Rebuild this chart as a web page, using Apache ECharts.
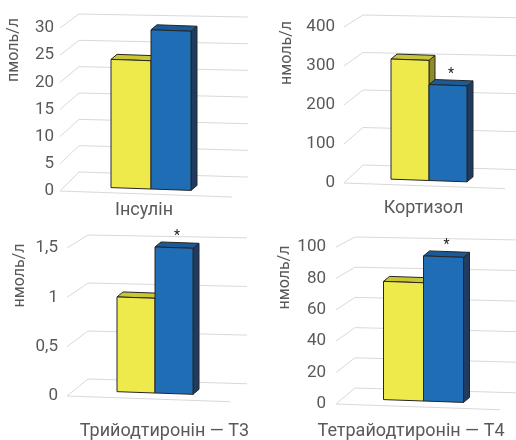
<!DOCTYPE html>
<html>
<head>
<meta charset="utf-8">
<script src="https://cdn.jsdelivr.net/npm/echarts@6/dist/echarts.min.js"></script>
<style>
  html, body { margin: 0; padding: 0; background: #fff; }
  #chart { width: 516px; height: 440px; }
</style>
</head>
<body>
<div id="chart"></div>
<script>
// data
const categories = ['Інсулін', 'Кортизол', 'Трийодтиронін — Т3', 'Тетрайодтиронін — Т4'];
const units = ['пмоль/л', 'нмоль/л', 'нмоль/л', 'нмоль/л'];
const yellowValues = [23.6, 308, 0.96, 75.3];
const blueValues = [29.3, 246, 1.48, 92.4];
const marks = ['', '*', '*', '*'];
const axisMax = [30, 400, 1.5, 100];
const axisStep = [5, 100, 0.5, 20];
const ticks = [
    [0, 5, 10, 15, 20, 25, 30],
    [0, 100, 200, 300, 400],
    [0, 0.5, 1, 1.5],
    [0, 20, 40, 60, 80, 100]
];

// layout of the four panels (pixels)
const panels = [
    {left: 60, top: 28, bottom: 191, right: 232, labelMargin: 10, labelShift: -2, yMargin: 6,
        nameGap: 38, nameCenter: 50, backEnd: 248, dx: 19, dy0: 19, dyTop: 14, barW: 40, shiftX: 5, shiftY: -2},
    {left: 344, top: 27, bottom: 183, right: 505, labelMargin: 16, labelShift: -1, yMargin: 9,
        nameGap: 49, nameCenter: 53, backEnd: 530, dx: 19, dy0: 18, dyTop: 12, barW: 38, shiftX: 4.5, shiftY: -2.5},
    {left: 67, top: 248, bottom: 397, right: 230, labelMargin: 26, labelShift: 16, yMargin: 9,
        nameGap: 39, nameCenter: 276, backEnd: 247, dx: 21, dy0: 17, dyTop: 13, barW: 38, shiftX: 6.5, shiftY: -3},
    {left: 336, top: 247, bottom: 405, right: 500, labelMargin: 18, labelShift: -7, yMargin: 10,
        nameGap: 43, nameCenter: 278, backEnd: 530, dx: 19, dy0: 16, dyTop: 10, barW: 40, shiftX: 5.5, shiftY: -3}
];

const slope = 0.035;      // the whole 3d view is tilted a little
const depthX = 6;
const depthY = 5;
const gridColor = '#d9d9d9';
const textColor = '#595959';
const shades = [
    {front: '#eeea4b', top: '#c9c535', side: '#8f8b2b'},
    {front: '#1f6db5', top: '#1b5a98', side: '#1f3c60'}
];

const chart = echarts.init(document.getElementById('chart'));

function gridRender(p) {
    const g = panels[p];
    return function (params, api) {
        const cs = params.coordSys;
        const v = api.value(1);
        const t = v / axisMax[p];
        const y = api.coord([0, v])[1];
        const x0 = cs.x;
        const bx = x0 + g.dx;
        const by = y - (g.dy0 + (g.dyTop - g.dy0) * t);
        const backSlope = 0.03 - 0.012 * t;
        const children = [{
            type: 'polyline',
            shape: {points: [[x0, y], [bx, by], [g.backEnd, by + (g.backEnd - bx) * backSlope]]},
            style: {stroke: gridColor, lineWidth: 1, fill: null}
        }];
        if (v === 0) {
            children.push({
                type: 'line',
                shape: {x1: x0, y1: y, x2: cs.x + cs.width, y2: y + cs.width * slope},
                style: {stroke: gridColor, lineWidth: 1}
            });
        }
        return {type: 'group', children: children};
    };
}

function barRender(p, side) {
    const g = panels[p];
    const c = shades[side];
    return function (params, api) {
        const v = api.value(1);
        const base = api.coord([0, 0]);
        const top = api.coord([0, v]);
        const cx = base[0] + g.shiftX;
        const xl = side === 0 ? cx - g.barW : cx;
        const xr = xl + g.barW;
        const yAt = (y, x) => y + g.shiftY + slope * (x - cx);
        const bl = [xl, yAt(base[1], xl)], br = [xr, yAt(base[1], xr)];
        const tl = [xl, yAt(top[1], xl)], tr = [xr, yAt(top[1], xr)];
        const off = pt => [pt[0] + depthX, pt[1] - depthY];
        const edge = {stroke: '#262626', lineWidth: 1, lineJoin: 'round'};
        const children = [
            {type: 'polygon', shape: {points: [br, tr, off(tr), off(br)]}, style: Object.assign({fill: c.side}, edge)},
            {type: 'polygon', shape: {points: [tl, tr, off(tr), off(tl)]}, style: Object.assign({fill: c.top}, edge)},
            {type: 'polygon', shape: {points: [bl, br, tr, tl]}, style: Object.assign({fill: c.front}, edge)}
        ];
        if (side === 1 && marks[p]) {
            children.push({
                type: 'text',
                style: {
                    text: marks[p], x: (tl[0] + off(tr)[0]) / 2, y: off(tl)[1] - 5,
                    align: 'center', verticalAlign: 'middle',
                    fill: '#222', fontSize: 14, fontFamily: 'Roboto'
                }
            });
        }
        return {type: 'group', children: children};
    };
}

const grid = [], xAxis = [], yAxis = [], series = [];
panels.forEach(function (g, p) {
    grid.push({left: g.left, top: g.top, width: g.right - g.left, height: g.bottom - g.top});
    const sh = g.labelShift;
    xAxis.push({
        type: 'category', gridIndex: p, data: [categories[p]],
        axisLine: {show: false}, axisTick: {show: false},
        axisLabel: {
            margin: g.labelMargin, color: textColor, fontSize: 18, fontFamily: 'Roboto',
            padding: sh >= 0 ? [0, 0, 0, sh * 2] : [0, -sh * 2, 0, 0]
        }
    });
    const mid = (g.top + g.bottom) / 2;
    yAxis.push({
        type: 'value', gridIndex: p, min: 0, max: axisMax[p], interval: axisStep[p],
        name: units[p], nameLocation: 'middle', nameGap: g.nameGap,
        nameTextStyle: {
            color: textColor, fontSize: 16, fontFamily: 'Roboto',
            padding: [0, 0, 0, (mid - g.nameCenter) * 2]
        },
        axisLine: {show: false}, axisTick: {show: false}, splitLine: {show: false},
        axisLabel: {
            margin: g.yMargin, color: textColor, fontSize: 17, fontFamily: 'Roboto',
            formatter: v => String(v).replace('.', ',')
        }
    });
    series.push({
        type: 'custom', xAxisIndex: p, yAxisIndex: p, clip: false, z: 1,
        encode: {x: 0, y: 1},
        data: ticks[p].map(v => [0, v]),
        renderItem: gridRender(p)
    });
    series.push({
        type: 'custom', xAxisIndex: p, yAxisIndex: p, clip: false, z: 2,
        encode: {x: 0, y: 1},
        data: [[0, yellowValues[p]]],
        renderItem: barRender(p, 0)
    });
    series.push({
        type: 'custom', xAxisIndex: p, yAxisIndex: p, clip: false, z: 3,
        encode: {x: 0, y: 1},
        data: [[0, blueValues[p]]],
        renderItem: barRender(p, 1)
    });
});

chart.setOption({
    animation: false,
    backgroundColor: '#fff',
    grid: grid,
    xAxis: xAxis,
    yAxis: yAxis,
    series: series
});
</script>
</body>
</html>
